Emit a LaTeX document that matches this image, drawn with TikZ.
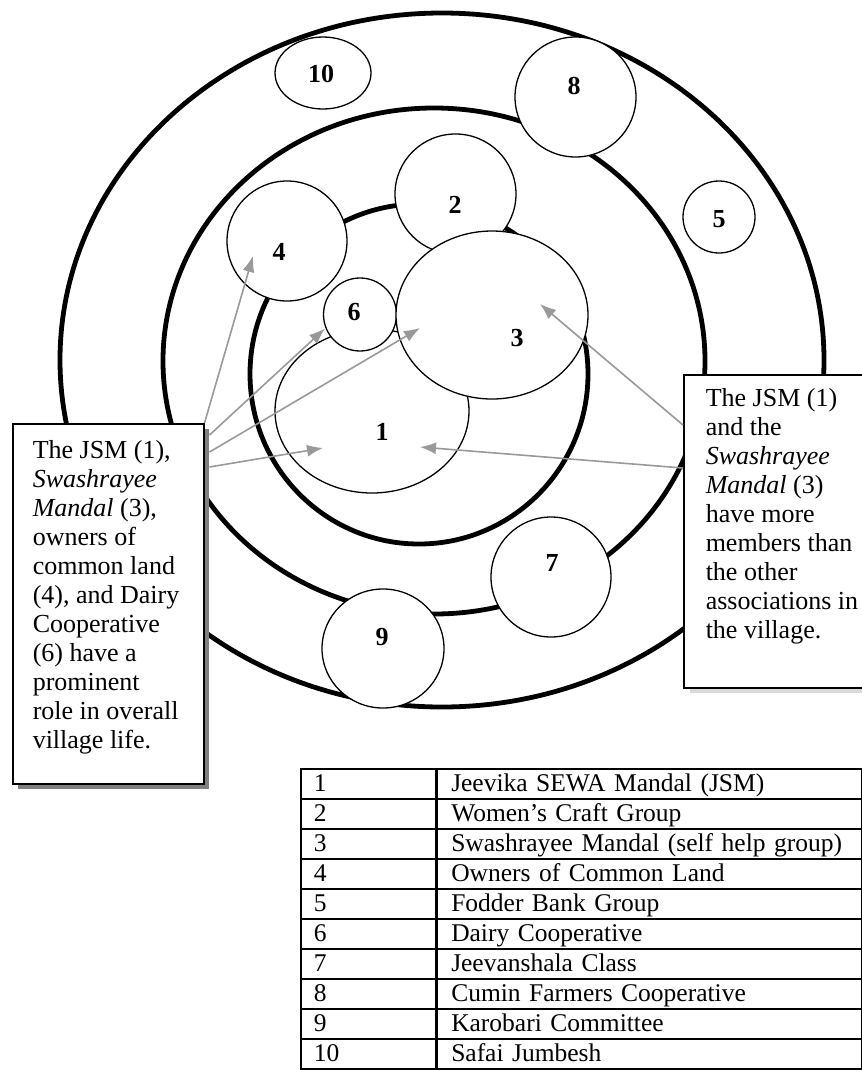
\documentclass[tikz,border=0pt]{standalone}
\usepackage{fontspec}
\setmainfont{Liberation Serif}
\usetikzlibrary{
  shapes.geometric,
  arrows.meta,
  shadows
}

\begin{document}
\begin{tikzpicture}[
    x=1pt, y=-1pt,
    ring/.style = {shape=ellipse, draw, line width=4.8pt, inner sep=0pt},
    assoc/.style = {shape=ellipse, draw, fill=white, line width=1.3pt, inner sep=0pt},
    num/.style = {font=\fontsize{26}{29}\selectfont\bfseries},
    note/.style = {draw, fill=white, line width=1.5pt, anchor=north west,
      inner ysep=0pt, font=\fontsize{26}{29}\selectfont},
    pointer/.style = {draw=black!40, line width=1.6pt, -{Latex[length=16pt,width=12pt]}},
    cell/.style = {draw, line width=1.5pt, anchor=north west, minimum height=30pt,
      inner ysep=0pt, text height=17pt, text depth=1pt, align=left,
      font=\fontsize{25.5}{29}\selectfont}]
  \useasboundingbox (0,0) rectangle (862,1072);

  % the three rings
  \node[ring, minimum width=764, minimum height=694] (outer) at (442,360) {};
  \node[ring, minimum width=542, minimum height=506] (middle) at (434,361) {};
  \node[ring, minimum width=338, minimum height=340] (inner) at (419,374) {};

  % associations
  \node[assoc, minimum width=121, minimum height=120] (c2) at (455.5,194) {};
  \node[assoc, minimum width=194, minimum height=164] (c1) at (372,411) {};
  \node[assoc, minimum width=120, minimum height=120] (c4) at (287,241) {};
  \node[assoc, minimum width=73, minimum height=73] (c6) at (360,314.5) {};
  \node[assoc, minimum width=192, minimum height=168] (c3) at (492,315) {};
  \node[assoc, minimum width=72, minimum height=72] (c5) at (719,217) {};
  \node[assoc, minimum width=120, minimum height=120] (c7) at (551,577) {};
  \node[assoc, minimum width=121, minimum height=120] (c8) at (575.5,97) {};
  \node[assoc, minimum width=122, minimum height=119] (c9) at (383,648.5) {};
  \node[assoc, minimum width=96, minimum height=72] (c10) at (323,73) {};

  \node[num] (n1) at (382,432) {1};
  \node[num] (n2) at (455,205) {2};
  \node[num] (n3) at (517,338) {3};
  \node[num] (n4) at (279,252) {4};
  \node[num] (n5) at (719,219) {5};
  \node[num] (n6) at (354,312) {6};
  \node[num] (n7) at (552,563) {7};
  \node[num] (n8) at (574,86) {8};
  \node[num] (n9) at (382,637) {9};
  \node[num] (n10) at (321,74) {10};

  % notes
  \node[note, inner xsep=20pt,
    drop shadow={shadow xshift=5pt, shadow yshift=-5pt, fill=black!50, opacity=1}]
    (lnote) at (12,423) {\parbox[c][360pt][t]{151pt}{\raggedright\vspace{17pt}
    The JSM (1),\\
    \textit{Swashrayee}\\
    \textit{Mandal} (3),\\
    owners of\\
    common land\\
    (4), and Dairy\\
    Cooperative\\
    (6) have a\\
    prominent\\
    role in overall\\
    village life.}};
  \node[note, inner xsep=22pt,
    drop shadow={shadow xshift=6pt, shadow yshift=-5pt, fill=black!15, opacity=1}]
    (rnote) at (683,374) {\parbox[c][313pt][t]{160pt}{\raggedright\vspace{14pt}
    The JSM (1)\\
    and the\\
    \textit{Swashrayee}\\
    \textit{Mandal} (3)\\
    have more\\
    members than\\
    the other\\
    associations in\\
    the village.}};

  % pointers
  \draw[pointer] (lnote.north east) -- ([shift={(-34pt,-15pt)}]c4.center);
  \draw[pointer] ([shift={(5pt,-12pt)}]lnote.north east) -- ([shift={(-35pt,-14pt)}]c6.center);
  \draw[pointer] ([shift={(5pt,-29pt)}]lnote.north east) -- ([shift={(-72pt,-13pt)}]c3.center);
  \draw[pointer] ([shift={(5pt,-44pt)}]lnote.north east) -- ([shift={(-49pt,-37pt)}]c1.center);
  \draw[pointer] ([yshift=-51pt]rnote.north west) -- ([shift={(48pt,11pt)}]c3.center);
  \draw[pointer] ([yshift=-94pt]rnote.north west) -- ([shift={(48pt,-36pt)}]c1.center);

  % key table
  \foreach \desc [count=\i] in {Jeevika SEWA Mandal (JSM), Women’s Craft Group,
      Swashrayee Mandal (self help group), Owners of Common Land, Fodder Bank Group,
      Dairy Cooperative, Jeevanshala Class, Cumin Farmers Cooperative,
      Karobari Committee, Safai Jumbesh}{
    \node[cell, text width=109pt, inner xsep=13pt] (k\i) at (300,{768+30*(\i-1)}) {\i};
    \node[cell, text width=396pt, inner xsep=14pt] (d\i) at (k\i.north east) {\mbox{\desc}};
  }
\end{tikzpicture}
\end{document}
